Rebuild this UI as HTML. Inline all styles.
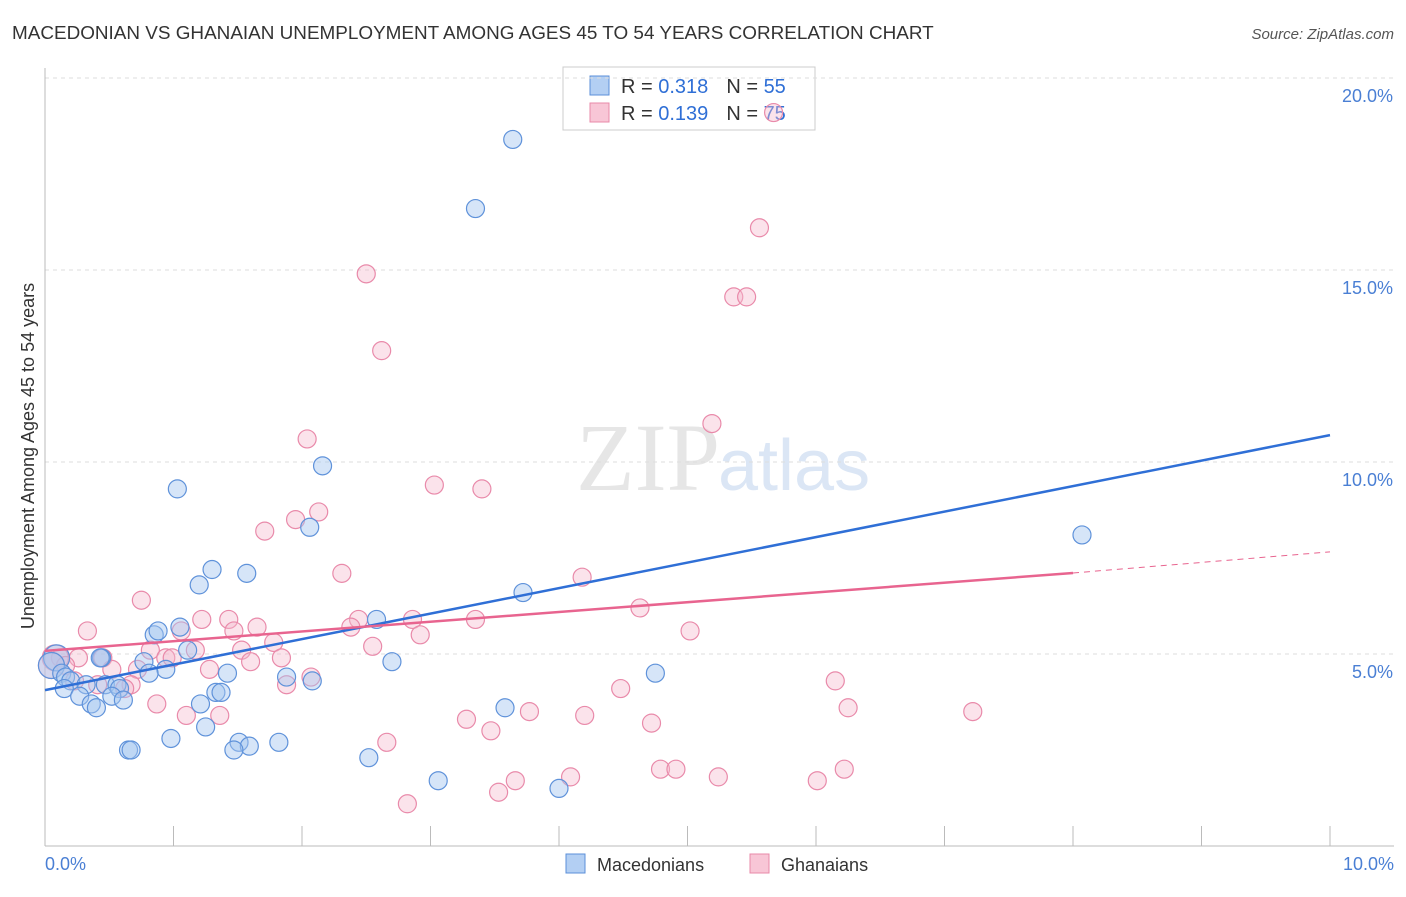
<!DOCTYPE html>
<html><head><meta charset="utf-8"><style>
body{margin:0;background:#fff;font-family:"Liberation Sans",sans-serif}
</style></head><body>
<svg id="c" width="1406" height="892" xmlns="http://www.w3.org/2000/svg">
<text x="12" y="39" font-size="18.9" fill="#333">MACEDONIAN VS GHANAIAN UNEMPLOYMENT AMONG AGES 45 TO 54 YEARS CORRELATION CHART</text>
<text x="1394" y="39" font-size="15" fill="#555" font-style="italic" text-anchor="end">Source: ZipAtlas.com</text>
<text x="720" y="490" font-size="96" fill="#e6e6e6" text-anchor="end" font-family="Liberation Serif">ZIP</text>
<text x="718" y="490" font-size="72" fill="#dbe6f5">atlas</text>
<g>
<rect x="563" y="67" width="252" height="63" fill="#fff" stroke="#ccc"/>
<rect x="590" y="76" width="19" height="19" fill="#b3cff3" stroke="#5b8fd8"/>
<rect x="590" y="103" width="19" height="19" fill="#f8c6d6" stroke="#e889a8"/>
<text x="621" y="93" font-size="20" fill="#333">R = <tspan fill="#2f6fd6">0.318</tspan><tspan dx="18">N = </tspan><tspan fill="#2f6fd6">55</tspan></text>
<text x="621" y="120" font-size="20" fill="#333">R = <tspan fill="#2f6fd6">0.139</tspan><tspan dx="18">N = </tspan><tspan fill="#2f6fd6">75</tspan></text>
</g>
<g id="grid"></g><g id="axes"></g><g id="pts"></g><g id="lines"></g>
<text transform="translate(34,456) rotate(-90)" font-size="18" fill="#333" text-anchor="middle">Unemployment Among Ages 45 to 54 years</text>
<text x="45" y="870" font-size="18" fill="#4a7fd4">0.0%</text>
<text x="1394" y="870" font-size="18" fill="#4a7fd4" text-anchor="end">10.0%</text>
<g>
<rect x="566" y="854" width="19" height="19" fill="#b3cff3" stroke="#5b8fd8"/>
<text x="597" y="871" font-size="18" fill="#333">Macedonians</text>
<rect x="750" y="854" width="19" height="19" fill="#f8c6d6" stroke="#e889a8"/>
<text x="781" y="871" font-size="18" fill="#333">Ghanaians</text>
</g>
</svg>
<script>
const yTicks=[5,10,15,20];
const xTicks=[0,1,2,3,4,5,6,7,8,9,10];
const blueX=[3.64,3.35,2.16,1.03,2.06,8.07,1.30,1.57,1.20,3.72,2.58,1.05,0.85,0.88,1.11,0.77,0.94,0.81,2.70,4.75,1.42,1.88,2.08,0.09,0.05,0.13,0.16,0.20,0.44,0.32,0.15,0.47,0.56,0.58,0.27,0.52,0.61,0.36,0.40,1.33,1.37,1.21,3.58,1.25,0.98,1.51,1.82,1.59,1.47,0.65,0.67,2.52,3.06,4.00,0.43];
const blueY=[18.4,16.6,9.9,9.3,8.3,8.1,7.2,7.1,6.8,6.6,5.9,5.7,5.5,5.6,5.1,4.8,4.6,4.5,4.8,4.5,4.5,4.4,4.3,4.9,4.7,4.5,4.4,4.3,4.9,4.2,4.1,4.2,4.2,4.1,3.9,3.9,3.8,3.7,3.6,4.0,4.0,3.7,3.6,3.1,2.8,2.7,2.7,2.6,2.5,2.5,2.5,2.3,1.7,1.5,4.9];
const pinkX=[5.67,5.56,2.50,5.36,5.46,2.62,5.19,2.04,3.03,3.40,2.13,1.95,1.71,2.31,4.18,0.75,4.63,1.43,1.22,3.35,2.86,2.44,2.38,1.65,1.06,1.47,0.33,5.02,2.92,2.55,1.78,1.17,0.82,1.53,0.94,0.99,1.84,1.60,0.26,0.12,0.08,0.45,0.52,0.72,1.28,0.67,0.62,0.41,2.07,6.15,1.88,4.48,0.87,6.25,7.22,1.36,1.10,3.77,4.20,3.28,4.72,3.47,2.66,4.79,4.91,4.09,5.24,3.66,3.53,6.01,6.22,2.82,0.23,0.16,0.05];
const pinkY=[19.1,16.1,14.9,14.3,14.3,12.9,11.0,10.6,9.4,9.3,8.7,8.5,8.2,7.1,7.0,6.4,6.2,5.9,5.9,5.9,5.9,5.9,5.7,5.7,5.6,5.6,5.6,5.6,5.5,5.2,5.3,5.1,5.1,5.1,4.9,4.9,4.9,4.8,4.9,4.9,4.9,4.9,4.6,4.6,4.6,4.2,4.1,4.2,4.4,4.3,4.2,4.1,3.7,3.6,3.5,3.4,3.4,3.5,3.4,3.3,3.2,3.0,2.7,2.0,2.0,1.8,1.8,1.7,1.4,1.7,2.0,1.1,4.3,4.7,4.7];
const blueLine=[4.06,10.7];
const pinkLine=[5.08,7.11,7.66];
(function(){
const NS="http://www.w3.org/2000/svg";
const X0=45,X1=1330,Y0=846,YS=38.4;
const sx=v=>X0+(X1-X0)*v/10, sy=v=>Y0-v*YS;
function mk(t,p,a){const e=document.createElementNS(NS,t);for(const k in a)e.setAttribute(k,a[k]);document.getElementById(p).appendChild(e);return e;}
yTicks.forEach(t=>{
 const l=mk('line','grid',{x1:45,x2:1394,y1:sy(t),y2:sy(t),stroke:'#ddd','stroke-dasharray':'4,4'});
 
 
 const tx=mk('text','grid',{x:1393,y:sy(t)+24,'font-size':18,fill:'#4a7fd4','text-anchor':'end'});
 tx.textContent=t.toFixed(1)+'%';
 
 
});
const yaxis=mk('line','axes',{x1:45,x2:45,y1:68,y2:846,stroke:'#bbb'});


const xa=mk('line','axes',{x1:45,x2:1394,y1:846,y2:846,stroke:'#bbb'});


xTicks.forEach(t=>{const l=mk('line','axes',{x1:sx(t),x2:sx(t),y1:826,y2:846,stroke:'#bbb'});
 
 });
function dots(xs,ys,fill,stroke,name){xs.forEach((x,i)=>{
 const big=(x<0.12&&Math.abs(ys[i]-4.8)<0.3);
 const c=mk('circle','pts',{cx:sx(x),cy:sy(ys[i]),r:big?13:9,fill:fill,stroke:stroke,'stroke-width':1.2});
 
 });}
dots(pinkX,pinkY,'rgba(246,184,204,0.4)','#e98aaa','ghanaian-point');
dots(blueX,blueY,'rgba(164,198,240,0.45)','#5f92da','macedonian-point');
const bl=mk('line','lines',{x1:sx(0),y1:sy(blueLine[0]),x2:sx(10),y2:sy(blueLine[1]),stroke:'#2f6fd6','stroke-width':2.5});


const pl=mk('line','lines',{x1:sx(0),y1:sy(pinkLine[0]),x2:sx(8),y2:sy(pinkLine[1]),stroke:'#e8648f','stroke-width':2.5});


const pd=mk('line','lines',{x1:sx(8),y1:sy(pinkLine[1]),x2:sx(10),y2:sy(pinkLine[2]),stroke:'#e8648f','stroke-width':1,'stroke-dasharray':'6,5'});


})();
</script>
</body></html>
